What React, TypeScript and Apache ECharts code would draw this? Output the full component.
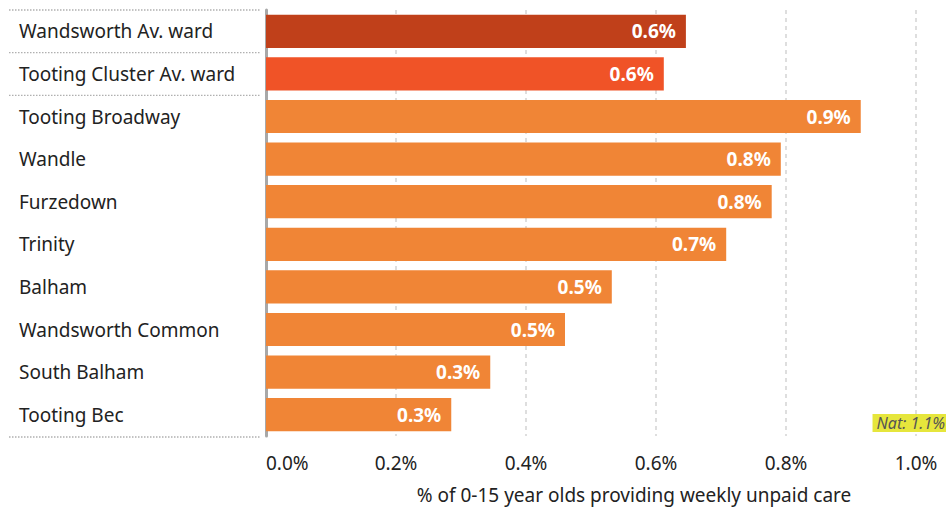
import React, { useEffect, useRef } from "react";
import * as echarts from "echarts";

const categories = [
  "Wandsworth Av. ward",
  "Tooting Cluster Av. ward",
  "Tooting Broadway",
  "Wandle",
  "Furzedown",
  "Trinity",
  "Balham",
  "Wandsworth Common",
  "South Balham",
  "Tooting Bec",
];
const values = [0.646, 0.612, 0.915, 0.792, 0.778, 0.708, 0.532, 0.46, 0.345, 0.285];
const barColors = ["#c0401a", "#f05327", "#f08536", "#f08536", "#f08536", "#f08536", "#f08536", "#f08536", "#f08536", "#f08536"];
const xTicks = [0, 0.2, 0.4, 0.6, 0.8, 1.0];
const natLabel = "Nat: 1.1%";
const axisTitle = "% of 0-15 year olds providing weekly unpaid care";

const FONT = "Noto Sans";
const GRID_LEFT = 266;
const GRID_TOP = 10;
const GRID_H = 427;

export default function App() {
  const ref = useRef<HTMLDivElement>(null);
  useEffect(() => {
    if (!ref.current) return;
    const chart = echarts.init(ref.current, null, { renderer: "svg" });
    const band = GRID_H / categories.length;
    const sepRows = [0, 1, 2, categories.length];
    const seps = sepRows.map((r) => ({
      type: "line",
      shape: { x1: 9, y1: GRID_TOP + r * band, x2: 261, y2: GRID_TOP + r * band },
      style: { stroke: "#b0b0b0", lineWidth: 1.3, lineDash: [1.5, 1.5] },
      silent: true,
    }));
    chart.setOption({
      animation: false,
      grid: { left: GRID_LEFT, width: 650, top: GRID_TOP, height: GRID_H, containLabel: false },
      xAxis: {
        type: "value",
        min: xTicks[0],
        max: xTicks[xTicks.length - 1],
        interval: 0.2,
        axisLine: { show: false },
        axisTick: { show: false },
        splitLine: { show: true, lineStyle: { color: "#d4d4d4", type: [4, 4], width: 1.5 } },
        axisLabel: {
          formatter: (v: number) => v.toFixed(1) + "%",
          color: "#222",
          fontSize: 19,
          fontFamily: FONT,
          margin: 17,
          alignMinLabel: "left",
        },
        name: axisTitle,
        nameLocation: "middle",
        nameGap: 49,
        nameTextStyle: { color: "#222", fontSize: 19, fontFamily: FONT, padding: [0, 0, 0, 86] },
      },
      yAxis: {
        type: "category",
        inverse: true,
        data: categories,
        axisLine: { show: true, lineStyle: { color: "#a8a8a8", width: 3 } },
        axisTick: { show: false },
        splitLine: { show: false },
        axisLabel: {
          align: "left",
          margin: GRID_LEFT - 19,
          color: "#222",
          fontSize: 19,
          fontFamily: FONT,
          padding: [3, 0, 0, 0],
        },
      },
      series: [
        {
          type: "bar",
          data: values.map((v, i) => ({ value: v, itemStyle: { color: barColors[i] } })),
          barCategoryGap: "22%",
          label: {
            show: true,
            position: "insideRight",
            distance: 10,
            formatter: (p: any) => p.value.toFixed(1) + "%",
            color: "#fff",
            fontWeight: "bold",
            fontSize: 19,
            fontFamily: FONT,
          },
        },
      ],
      graphic: [
        ...seps,
        {
          type: "text",
          right: 0,
          top: 414,
          z: 100,
          style: {
            text: natLabel,
            fill: "#555",
            fontStyle: "italic",
            fontSize: 16,
            lineHeight: 18,
            fontFamily: FONT,
            backgroundColor: "#e6e63c",
            padding: [0, 1, 0, 4],
          },
        },
      ],
    });
    return () => chart.dispose();
  }, []);
  return <div ref={ref} style={{ position: "absolute", left: 0, top: 0, width: 946, height: 509 }} />;
}
